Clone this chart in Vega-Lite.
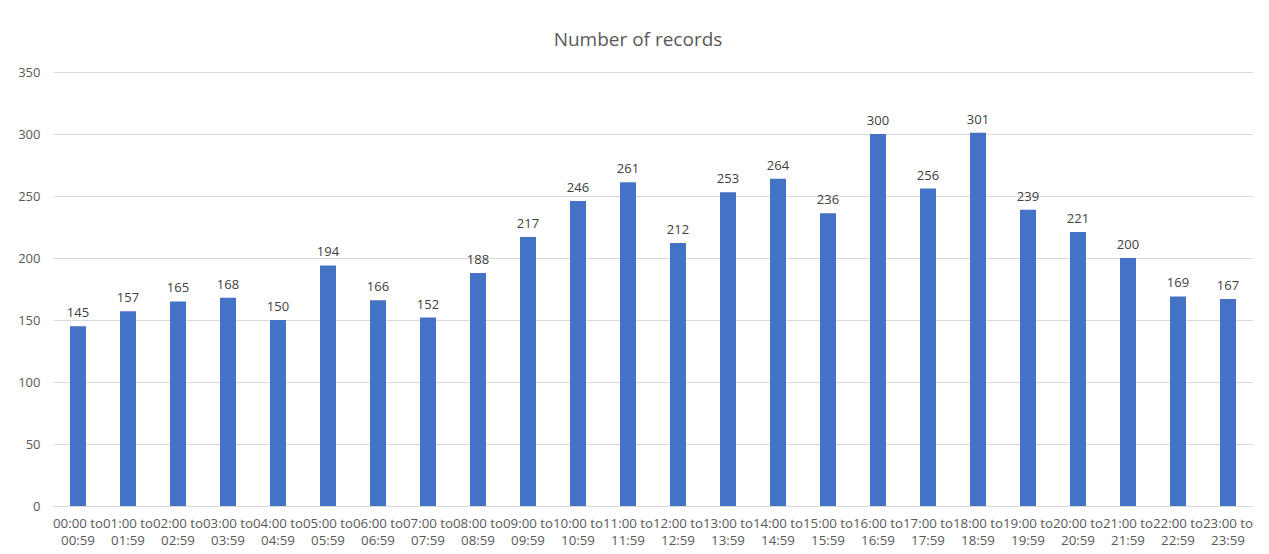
{
  "$schema": "https://vega.github.io/schema/vega-lite/v6.json",
  "width": 1200,
  "height": 434,
  "autosize": {"type": "none"},
  "padding": {"left": 53, "top": 72, "right": 16, "bottom": 48},
  "background": "white",
  "title": {
    "text": "Number of records",
    "anchor": "middle",
    "dx": -15,
    "offset": 16,
    "font": "Open Sans",
    "fontSize": 19,
    "fontWeight": "normal",
    "color": "#595959"
  },
  "data": {
    "values": [
      {"hour": "00:00 to 00:59", "records": 145},
      {"hour": "01:00 to 01:59", "records": 157},
      {"hour": "02:00 to 02:59", "records": 165},
      {"hour": "03:00 to 03:59", "records": 168},
      {"hour": "04:00 to 04:59", "records": 150},
      {"hour": "05:00 to 05:59", "records": 194},
      {"hour": "06:00 to 06:59", "records": 166},
      {"hour": "07:00 to 07:59", "records": 152},
      {"hour": "08:00 to 08:59", "records": 188},
      {"hour": "09:00 to 09:59", "records": 217},
      {"hour": "10:00 to 10:59", "records": 246},
      {"hour": "11:00 to 11:59", "records": 261},
      {"hour": "12:00 to 12:59", "records": 212},
      {"hour": "13:00 to 13:59", "records": 253},
      {"hour": "14:00 to 14:59", "records": 264},
      {"hour": "15:00 to 15:59", "records": 236},
      {"hour": "16:00 to 16:59", "records": 300},
      {"hour": "17:00 to 17:59", "records": 256},
      {"hour": "18:00 to 18:59", "records": 301},
      {"hour": "19:00 to 19:59", "records": 239},
      {"hour": "20:00 to 20:59", "records": 221},
      {"hour": "21:00 to 21:59", "records": 200},
      {"hour": "22:00 to 22:59", "records": 169},
      {"hour": "23:00 to 23:59", "records": 167}
    ]
  },
  "encoding": {
    "x": {
      "field": "hour",
      "type": "nominal",
      "sort": null,
      "scale": {"paddingInner": 0.68, "paddingOuter": 0.34},
      "axis": {
        "title": null,
        "labelAngle": 0,
        "labelExpr": "[slice(datum.value, 0, 8), slice(datum.value, 9)]",
        "labelLineHeight": 17,
        "labelPadding": 10,
        "labelLimit": 0,
        "labelOverlap": false,
        "labelFont": "Open Sans",
        "labelFontSize": 13.3,
        "labelColor": "#595959",
        "ticks": false,
        "domain": true,
        "domainColor": "#D9D9D9",
        "grid": false
      }
    },
    "y": {
      "field": "records",
      "type": "quantitative",
      "scale": {"domain": [0, 350]},
      "axis": {
        "title": null,
        "values": [0, 50, 100, 150, 200, 250, 300, 350],
        "labelFont": "Open Sans",
        "labelFontSize": 13,
        "labelColor": "#595959",
        "labelPadding": 13,
        "ticks": false,
        "domain": false,
        "grid": true,
        "gridColor": "#D9D9D9",
        "gridWidth": 1
      }
    }
  },
  "layer": [
    {"mark": {"type": "bar", "color": "#4472C4"}},
    {
      "mark": {
        "type": "text",
        "baseline": "bottom",
        "dy": -6,
        "font": "Open Sans",
        "fontSize": 13,
        "color": "#404040"
      },
      "encoding": {"text": {"field": "records", "type": "quantitative"}}
    }
  ],
  "config": {"view": {"stroke": null}}
}
